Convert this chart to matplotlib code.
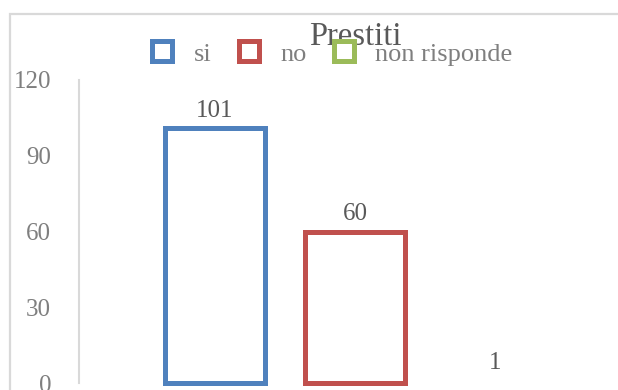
import matplotlib
matplotlib.use("Agg")
from matplotlib import pyplot as plt
from matplotlib.lines import Line2D
from matplotlib.patches import Rectangle
import numpy as np

# data
title = "Prestiti"
categories = ["si", "no", "non risponde"]
values = [101, 60, 1]
colors = ["#4f81bd", "#c0504d", "#9bbb59"]
yticks = [0, 30, 60, 90, 120]

plt.rcParams['font.family'] = ['Liberation Serif', 'DejaVu Serif']

W, H = 618, 390
fig = plt.figure(figsize=(W / 100, H / 100), dpi=100)

# light grey chart border (runs off the right/bottom edge)
fig.patches.append(Rectangle((9.5 / W, -0.1), 1.2, 1 - 14 / H + 0.1,
                             transform=fig.transFigure, fill=False,
                             edgecolor="#d9d9d9", lw=1.6))

ax = fig.add_axes([79 / W, 7 / H, (W - 79) / W, 303 / H])
ax.set_facecolor("none")

x = np.arange(len(values))
# the tiny bar's outline is not visible in the original
widths = [3.6 if v > 5 else 0 for v in values]
ax.bar(x, values, width=0.71, facecolor="white", edgecolor=colors,
       linewidth=widths, clip_on=False)

for xi, v in zip(x, values):
    ax.annotate(str(v), (xi, v), xytext=(0, 8), textcoords="offset points",
                ha="center", va="baseline", fontsize=18, color="#595959")

ax.set_ylim(0, 120)
ax.set_xlim(-0.971, 2.879)
ax.set_yticks(yticks)
ax.set_xticks([])
ax.tick_params(axis="y", length=0, pad=20, labelsize=18, labelcolor="#7f7f7f")
for s in ["top", "right", "bottom"]:
    ax.spines[s].set_visible(False)
ax.spines["left"].set_color("#d9d9d9")
ax.spines["left"].set_linewidth(1.5)

fig.text(355 / W, 1 - 45 / H, title, ha="center", va="baseline",
         fontsize=23.5, color="#595959")

handles = [Line2D([], [], linestyle="none", marker="s", markersize=14,
                  markerfacecolor="white", markeredgecolor=c,
                  markeredgewidth=3.6) for c in colors]
leg = fig.legend(handles, categories, loc="center", ncol=3,
                 bbox_to_anchor=(331 / W, 1 - 54 / H), frameon=False,
                 fontsize=19, handlelength=1.0, handletextpad=0.7,
                 columnspacing=0.9, borderpad=0, borderaxespad=0)
for t in leg.get_texts():
    t.set_color("#7f7f7f")

fig.savefig("out.png", dpi=100)
